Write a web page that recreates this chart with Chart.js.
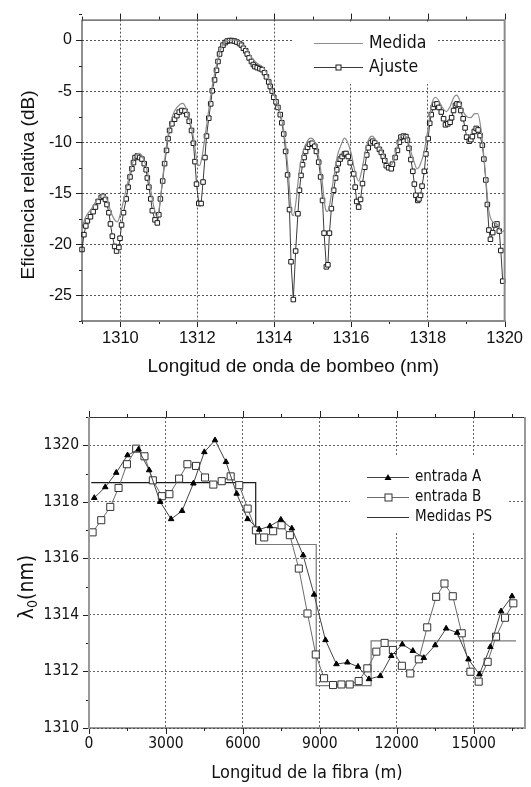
<!DOCTYPE html>
<html>
<head>
<meta charset="utf-8">
<script src="https://cdn.jsdelivr.net/npm/chart.js@4.4.1/dist/chart.umd.min.js"></script>
<style>
html, body { margin: 0; padding: 0; background: #fff; }
#top { position: absolute; left: 0; top: 0; }
#bot { position: absolute; left: 0; top: 390px; }
</style>
</head>
<body>
<canvas id="top" width="531" height="390"></canvas>
<canvas id="bot" width="531" height="397"></canvas>
<script>
// ---------- top chart: eficiencia relativa ----------
const ajusteX = [1309.00,1309.05,1309.10,1309.14,1309.22,1309.29,1309.35,1309.42,1309.50,1309.55,1309.61,1309.65,1309.70,1309.74,1309.79,1309.85,1309.90,1309.96,1309.99,
  1310.03,1310.08,1310.15,1310.20,1310.25,1310.30,1310.34,1310.38,1310.44,1310.50,1310.56,1310.62,1310.67,1310.70,1310.74,1310.79,1310.83,1310.90,1310.96,
  1311.00,1311.04,1311.10,1311.15,1311.20,1311.24,1311.28,1311.34,1311.41,1311.47,1311.53,1311.60,1311.68,1311.73,1311.79,1311.85,1311.90,1311.94,1311.98,
  1312.04,1312.10,1312.15,1312.20,1312.24,1312.30,1312.35,1312.39,1312.45,1312.50,1312.54,1312.58,1312.62,1312.67,1312.73,1312.78,1312.84,1312.90,1312.97,
  1313.03,1313.10,1313.15,1313.20,1313.26,1313.30,1313.35,1313.41,1313.46,1313.50,1313.56,1313.63,1313.69,1313.75,1313.80,1313.86,1313.90,1313.95,1313.99,
  1314.05,1314.10,1314.16,1314.20,1314.25,1314.30,1314.35,1314.40,1314.44,1314.50,1314.56,1314.62,1314.66,1314.70,1314.74,1314.78,1314.82,1314.87,1314.92,1314.99,
  1315.06,1315.10,1315.16,1315.21,1315.26,1315.30,1315.36,1315.40,1315.44,1315.49,1315.55,1315.60,1315.63,1315.67,1315.72,1315.77,1315.83,1315.87,1315.93,1315.98,
  1316.07,1316.11,1316.15,1316.20,1316.25,1316.30,1316.36,1316.41,1316.45,1316.51,1316.57,1316.62,1316.68,1316.74,1316.79,1316.84,1316.88,1316.92,1316.98,
  1317.05,1317.08,1317.15,1317.21,1317.26,1317.30,1317.37,1317.43,1317.47,1317.51,1317.56,1317.61,1317.65,1317.69,1317.74,1317.77,1317.81,1317.85,1317.91,1317.95,
  1318.01,1318.05,1318.09,1318.14,1318.18,1318.24,1318.29,1318.35,1318.41,1318.46,1318.52,1318.58,1318.62,1318.67,1318.72,1318.76,1318.82,1318.86,1318.92,1318.97,
  1319.01,1319.08,1319.12,1319.16,1319.21,1319.26,1319.31,1319.36,1319.42,1319.46,1319.51,1319.55,1319.59,1319.63,1319.69,1319.74,1319.80,1319.86,1319.90,1319.95];
const ajusteY = [-20.5,-19.05,-18.2,-17.7,-17.3,-16.8,-16.35,-15.8,-15.4,-15.3,-15.6,-16.1,-16.9,-18.0,-19.2,-20.2,-20.65,-20.3,-19.4,
  -18.1,-16.9,-15.55,-14.4,-13.4,-12.6,-12.0,-11.5,-11.35,-11.5,-11.65,-12.1,-12.7,-13.5,-14.4,-15.55,-16.7,-17.6,-17.9,
  -17.1,-15.55,-13.8,-12.1,-10.8,-9.65,-8.85,-8.2,-7.75,-7.4,-7.05,-6.9,-6.95,-7.3,-7.95,-8.85,-10.1,-11.9,-14.1,
  -16.0,-16.0,-13.9,-11.5,-9.4,-7.65,-6.25,-4.97,-3.9,-2.96,-2.1,-1.37,-0.9,-0.5,-0.25,-0.1,-0.05,-0.05,-0.1,
  -0.2,-0.35,-0.5,-0.8,-1.05,-1.37,-1.75,-2.1,-2.4,-2.6,-2.7,-2.8,-2.9,-3.2,-3.6,-4.1,-4.55,-5.0,-5.6,
  -6.05,-6.6,-7.3,-8.1,-9.2,-10.9,-13.2,-16.6,-21.7,-25.4,-20.65,-17.0,-14.7,-13.25,-12.2,-11.5,-10.9,-10.5,-10.2,-10.1,
  -10.4,-10.9,-11.95,-13.4,-15.7,-18.9,-22.2,-22.0,-18.9,-16.5,-14.7,-13.5,-12.7,-12.1,-11.65,-11.4,-11.15,-11.1,-11.4,-12.0,
  -13.1,-14.4,-15.8,-16.35,-15.6,-14.05,-12.45,-11.25,-10.55,-10.07,-9.9,-10.07,-10.35,-10.7,-11.0,-11.4,-11.8,-12.3,-12.5,
  -12.6,-12.15,-11.5,-10.8,-10.0,-9.5,-9.4,-9.45,-9.8,-10.6,-11.7,-12.85,-14.1,-15.2,-15.7,-15.55,-15.2,-14.3,-12.85,-11.15,
  -9.65,-8.15,-7.3,-6.6,-6.3,-6.25,-6.6,-7.05,-7.7,-8.3,-8.2,-8.05,-7.6,-6.9,-6.4,-6.25,-6.3,-6.9,-7.7,-8.6,
  -9.5,-9.9,-9.75,-9.45,-8.95,-8.65,-8.8,-9.35,-10.3,-11.65,-13.7,-16.1,-18.6,-19.5,-18.85,-18.1,-18.0,-18.7,-20.6,-23.6];

const medidaX = [1309.00,1309.10,1309.25,1309.40,1309.55,1309.65,1309.75,1309.85,1309.92,1310.00,1310.10,1310.20,1310.30,1310.40,1310.48,1310.58,1310.68,1310.78,1310.88,1310.95,
  1311.02,1311.10,1311.20,1311.30,1311.40,1311.55,1311.62,1311.70,1311.80,1311.90,1312.00,1312.06,1312.12,1312.20,1312.30,1312.40,1312.50,1312.60,1312.70,1312.85,
  1313.00,1313.15,1313.30,1313.45,1313.60,1313.70,1313.80,1313.90,1314.00,1314.10,1314.20,1314.30,1314.38,1314.45,1314.50,1314.57,1314.65,1314.75,1314.85,1314.95,
  1315.05,1315.15,1315.25,1315.33,1315.38,1315.45,1315.55,1315.65,1315.75,1315.83,1315.90,1316.00,1316.10,1316.20,1316.28,1316.38,1316.48,1316.55,1316.65,1316.80,
  1316.95,1317.05,1317.15,1317.25,1317.35,1317.45,1317.55,1317.65,1317.72,1317.80,1317.90,1318.00,1318.10,1318.20,1318.28,1318.38,1318.48,1318.58,1318.68,1318.75,
  1318.82,1318.92,1319.02,1319.12,1319.22,1319.30,1319.38,1319.45,1319.52,1319.58,1319.65,1319.75,1319.85,1319.92,1320.00];
const medidaY = [-18.3,-17.3,-16.5,-15.6,-15.1,-15.6,-16.8,-17.6,-17.8,-17.0,-15.4,-13.8,-12.2,-11.3,-11.1,-11.5,-12.5,-14.5,-16.5,-17.3,
  -16.2,-13.5,-10.3,-8.2,-7.0,-6.3,-6.2,-6.6,-7.8,-9.5,-12.0,-12.3,-11.5,-9.5,-6.8,-4.3,-2.5,-1.0,-0.3,0.0,
  0.0,-0.3,-1.0,-1.9,-2.4,-2.6,-3.2,-4.3,-5.4,-6.5,-7.8,-10.2,-13.5,-16.8,-17.2,-15.8,-13.0,-11.0,-10.0,-9.6,
  -9.9,-11.2,-13.8,-16.4,-16.8,-16.0,-13.5,-11.3,-10.2,-9.6,-9.9,-11.0,-12.8,-13.8,-12.8,-10.8,-9.6,-9.4,-9.8,-10.8,
  -12.0,-12.2,-11.2,-9.8,-9.3,-9.5,-10.8,-12.0,-12.6,-12.2,-11.0,-8.8,-6.3,-5.6,-5.9,-6.6,-7.0,-6.5,-5.6,-5.4,
  -5.8,-7.0,-7.5,-7.6,-7.2,-7.2,-8.6,-11.0,-14.0,-16.5,-17.6,-17.9,-18.2,-18.8,-18.6];

const topXTicks = [1310, 1312, 1314, 1316, 1318, 1320];
const topYTicks = [0, -5, -10, -15, -20, -25];

// ---------- bottom chart: lambda0 a lo largo de la fibra ----------
const fibraA = [206,634,1062,1502,1930,2346,2774,3201,3629,4070,4497,4913,5341,5757,6185,6636,7053,7481,7909,8349,
  8776,9220,9647,10075,10488,10916,11359,11787,12215,12627,13055,13499,13926,14354,14794,15222,15650,16066,16494];
const entradaA = [1318.14,1318.52,1319.03,1319.65,1319.85,1319.12,1318.0,1317.39,1317.68,1318.65,1319.76,1320.18,1319.41,1318.29,1317.39,1317.02,1317.14,1317.37,1317.06,1316.11,
  1314.72,1313.11,1312.26,1312.32,1312.17,1311.73,1311.84,1312.55,1312.96,1312.73,1312.48,1312.93,1313.52,1313.37,1312.43,1311.90,1312.87,1314.13,1314.66];
const fibraB = [140,478,829,1152,1478,1840,2163,2490,2840,3135,3513,3836,4174,4524,4847,5174,5524,5858,6185,6508,
  6831,7181,7508,7831,8181,8519,8842,9165,9515,9842,10165,10515,10853,11203,11526,11849,12199,12526,12860,13187,
  13537,13860,14183,14533,14871,15194,15544,15871,16221,16545];
const entradaB = [1316.92,1317.35,1317.82,1318.49,1319.33,1319.88,1319.61,1318.76,1318.2,1318.27,1318.82,1319.33,1319.27,1318.86,1318.61,1318.73,1318.9,1318.59,1317.76,1316.99,
  1316.74,1316.96,1317.17,1316.82,1315.64,1314.05,1312.6,1311.76,1311.52,1311.54,1311.54,1311.66,1312.11,1312.7,1313.01,1312.76,1312.2,1311.93,1312.43,1313.56,
  1314.64,1315.11,1314.66,1313.35,1311.99,1311.64,1312.34,1313.23,1313.9,1314.41];
const psX = [90, 6500, 8860, 11000, 16650];
const psY = [1318.68, 1316.49, 1311.5, 1313.08, 1313.08];

const botXTicks = [0, 3000, 6000, 9000, 12000, 15000];
const botYTicks = [1310, 1312, 1314, 1316, 1318, 1320];

const ARIAL = '"Liberation Sans", Arial, sans-serif';
const NARROW = '"DejaVu Sans Condensed", "Liberation Sans Narrow", Roboto, sans-serif';

function pts(xs, ys) { return xs.map((x, i) => ({ x: x, y: ys[i] })); }
function seg(c, x1, y1, x2, y2) { c.beginPath(); c.moveTo(x1, y1); c.lineTo(x2, y2); c.stroke(); }
function near(list, v) { return list.some(t => Math.abs(t - v) < 1e-6); }

// frame, tick marks, y title and legend drawn by hand
function framePlugin(o) {
  return {
    id: 'frame',
    beforeDatasetsDraw(chart) {
      const c = chart.ctx, b = o.legendBox;
      c.save();
      c.fillStyle = '#fff';
      c.fillRect(b[0], b[1], b[2], b[3]);
      c.restore();
    },
    afterDraw(chart) {
      const c = chart.ctx, a = chart.chartArea;
      const xs = chart.scales.x, ys = chart.scales.y;
      c.save();
      c.strokeStyle = '#222';
      c.lineWidth = 1;
      let n = Math.round((xs.max - o.xStart) / o.xMinor);
      for (let i = 0; i <= n; i++) {
        const v = o.xStart + i * o.xMinor;
        const px = Math.round(xs.getPixelForValue(v)) + 0.5;
        const len = near(o.xTicks, v) ? 6 : 3;
        seg(c, px, a.top, px, a.top - len);
        seg(c, px, a.bottom, px, a.bottom + len);
      }
      n = Math.round((ys.max - o.yStart) / o.yMinor);
      for (let i = 0; i <= n; i++) {
        const v = o.yStart + i * o.yMinor;
        const py = Math.round(ys.getPixelForValue(v)) + 0.5;
        const len = near(o.yTicks, v) ? 6 : 3;
        seg(c, a.left, py, a.left - len, py);
      }
      // borders
      const B = o.border;
      c.strokeStyle = B.top[0]; c.lineWidth = B.top[1]; seg(c, a.left, a.top + 0.5, a.right, a.top + 0.5);
      c.strokeStyle = B.bottom[0]; c.lineWidth = B.bottom[1]; seg(c, a.left - 1, a.bottom, a.right + 1, a.bottom);
      c.strokeStyle = B.left[0]; c.lineWidth = B.left[1]; seg(c, a.left, a.top, a.left, a.bottom + 1);
      c.strokeStyle = B.right[0]; c.lineWidth = B.right[1]; seg(c, a.right, a.top, a.right, a.bottom + 1);
      c.restore();
      o.yTitle(c, a);
      o.legend(c, chart);
    }
  };
}

// ---------- top chart ----------
new Chart(document.getElementById('top'), {
  type: 'scatter',
  data: {
    datasets: [
      {
        label: 'Medida',
        data: pts(medidaX, medidaY),
        showLine: true,
        cubicInterpolationMode: 'monotone',
        borderColor: '#8c8c8c',
        borderWidth: 1.2,
        pointRadius: 0
      },
      {
        label: 'Ajuste',
        data: pts(ajusteX, ajusteY),
        showLine: true,
        borderColor: '#3a3a3a',
        borderWidth: 1,
        pointStyle: 'rect',
        pointRadius: 3.2,
        pointBackgroundColor: '#fff',
        pointBorderColor: '#1a1a1a',
        pointBorderWidth: 1,
        clip: 6
      }
    ]
  },
  options: {
    responsive: false,
    animation: false,
    events: [],
    layout: { padding: { left: 18, right: 20, top: 13, bottom: 12 } },
    plugins: { legend: { display: false }, tooltip: { enabled: false } },
    scales: {
      x: {
        type: 'linear', min: 1309, max: 1320,
        afterBuildTicks: s => { s.ticks = topXTicks.map(v => ({ value: v })); },
        afterFit: s => { s.height = 57; },
        grid: { color: '#555', lineWidth: 1, drawTicks: false },
        border: { display: false, dash: [2, 2] },
        ticks: { callback: v => String(v), font: { family: ARIAL, size: 16.5 }, color: '#111', padding: 8, maxRotation: 0, autoSkip: false },
        title: { display: true, text: 'Longitud de onda de bombeo (nm)', font: { family: ARIAL, size: 19 }, color: '#111', padding: 0 }
      },
      y: {
        type: 'linear', min: -27.5, max: 2,
        afterBuildTicks: s => { s.ticks = topYTicks.map(v => ({ value: v })); },
        afterFit: s => { s.width = 64; },
        grid: { color: '#555', lineWidth: 1, drawTicks: false },
        border: { display: false, dash: [2, 2] },
        ticks: { callback: v => String(v), font: { family: ARIAL, size: 16 }, color: '#111', padding: 10 }
      }
    }
  },
  plugins: [framePlugin({
    legendBox: [293, 22, 144, 62],
    xStart: 1309, xMinor: 1, xTicks: topXTicks,
    yStart: -27.5, yMinor: 2.5, yTicks: topYTicks,
    border: { top: ['#222', 1], bottom: ['#8a8a8a', 2], left: ['#222', 1], right: ['#8a8a8a', 2] },
    yTitle: (c, a) => {
      c.save();
      c.translate(29, 185);
      c.rotate(-Math.PI / 2);
      c.font = '19px ' + ARIAL;
      c.fillStyle = '#111';
      c.textAlign = 'center';
      c.textBaseline = 'middle';
      c.fillText('Eficiencia relativa (dB)', 0, 0);
      c.restore();
    },
    legend: (c, chart) => {
      const ds = chart.data.datasets;
      c.save();
      c.font = '17.5px ' + NARROW;
      c.fillStyle = '#111';
      c.textBaseline = 'middle';
      c.strokeStyle = ds[0].borderColor; c.lineWidth = 1.2;
      seg(c, 314, 43.5, 363, 43.5);
      c.fillText(ds[0].label, 369, 43.5);
      c.strokeStyle = ds[1].borderColor; c.lineWidth = 1;
      seg(c, 314, 67.5, 363, 67.5);
      c.fillStyle = '#fff'; c.fillRect(336, 65, 5, 5);
      c.strokeStyle = '#1a1a1a'; c.strokeRect(336, 65, 5, 5);
      c.fillStyle = '#111';
      c.fillText(ds[1].label, 369, 67.5);
      c.restore();
    }
  })]
});

// ---------- bottom chart ----------
new Chart(document.getElementById('bot'), {
  type: 'scatter',
  data: {
    datasets: [
      {
        label: 'entrada A',
        data: pts(fibraA, entradaA),
        showLine: true,
        borderColor: '#444',
        borderWidth: 1,
        pointStyle: 'triangle',
        pointRadius: 3.2,
        pointBackgroundColor: '#000',
        pointBorderColor: '#000',
        pointBorderWidth: 1
      },
      {
        label: 'entrada B',
        data: pts(fibraB, entradaB),
        showLine: true,
        borderColor: '#6a6a6a',
        borderWidth: 1,
        pointStyle: 'rect',
        pointRadius: 5,
        pointBackgroundColor: '#fff',
        pointBorderColor: '#333',
        pointBorderWidth: 1,
        clip: 8
      },
      {
        label: 'Medidas PS',
        data: pts(psX, psY),
        showLine: true,
        stepped: 'before',
        borderColor: '#777',
        segment: { borderColor: ctx => ctx.p0DataIndex === 0 ? '#1a1a1a' : '#7a7a7a' },
        borderWidth: 1.2,
        pointRadius: 0
      }
    ]
  },
  options: {
    responsive: false,
    animation: false,
    events: [],
    layout: { padding: { left: 0, right: 4, top: 27, bottom: 3 } },
    plugins: { legend: { display: false }, tooltip: { enabled: false } },
    scales: {
      x: {
        type: 'linear', min: 0, max: 17000,
        afterBuildTicks: s => { s.ticks = botXTicks.map(v => ({ value: v })); },
        afterFit: s => { s.height = 56; },
        grid: { color: '#666', lineWidth: 1, drawTicks: false },
        border: { display: false, dash: [2, 2] },
        ticks: { callback: v => String(v), font: { family: NARROW, size: 15.5 }, color: '#111', padding: 7, maxRotation: 0, autoSkip: false },
        title: { display: true, text: 'Longitud de la fibra (m)', font: { family: NARROW, size: 18 }, color: '#111', padding: 0 }
      },
      y: {
        type: 'linear', min: 1310, max: 1321,
        afterBuildTicks: s => { s.ticks = botYTicks.map(v => ({ value: v })); },
        afterFit: s => { s.width = 89; },
        grid: { color: '#666', lineWidth: 1, drawTicks: false },
        border: { display: false, dash: [2, 2] },
        ticks: { callback: v => String(v), font: { family: NARROW, size: 15.5 }, color: '#111', padding: 10 }
      }
    }
  },
  plugins: [framePlugin({
    legendBox: [350, 65, 157, 78],
    xStart: 0, xMinor: 1500, xTicks: botXTicks,
    yStart: 1310, yMinor: 1, yTicks: botYTicks,
    border: { top: ['#333', 1], bottom: ['#333', 1], left: ['#999', 2], right: ['#999', 2] },
    yTitle: (c, a) => {
      c.save();
      c.translate(26, 197);
      c.rotate(-Math.PI / 2);
      c.fillStyle = '#111';
      c.textBaseline = 'alphabetic';
      const big = '21px ' + NARROW, small = '14px ' + NARROW;
      c.font = big; const w1 = c.measureText('λ').width, w3 = c.measureText('(nm)').width;
      c.font = small; const w2 = c.measureText('0').width;
      let x = -(w1 + w2 + w3) / 2;
      c.font = big; c.fillText('λ', x, 7); x += w1;
      c.font = small; c.fillText('0', x, 11); x += w2;
      c.font = big; c.fillText('(nm)', x, 7);
      c.restore();
    },
    legend: (c, chart) => {
      const ds = chart.data.datasets;
      const rows = [87, 107, 127];
      c.save();
      c.font = '15px ' + NARROW;
      c.textBaseline = 'middle';
      ds.forEach((d, i) => {
        const y = rows[i] + 0.5;
        c.strokeStyle = i === 2 ? '#333' : d.borderColor; c.lineWidth = 1;
        seg(c, 367, y, 409, y);
        if (i === 0) {
          c.fillStyle = '#000';
          c.beginPath(); c.moveTo(388, y - 3.5); c.lineTo(391.5, y + 2.5); c.lineTo(384.5, y + 2.5); c.closePath(); c.fill();
        } else if (i === 1) {
          c.fillStyle = '#fff'; c.fillRect(385, y - 3.5, 7, 7);
          c.strokeStyle = '#333'; c.strokeRect(385, y - 3.5, 7, 7);
        }
        c.fillStyle = '#111';
        c.fillText(d.label, 415, y);
      });
      c.restore();
    }
  })]
});
</script>
</body>
</html>
